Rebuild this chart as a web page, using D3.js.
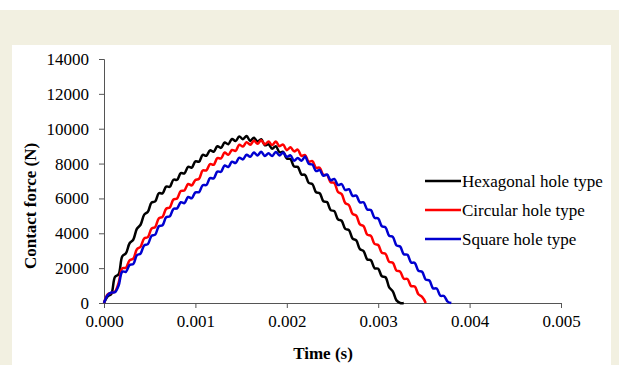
<!DOCTYPE html>
<html>
<head>
<meta charset="utf-8">
<script src="https://cdn.jsdelivr.net/npm/d3@7"></script>
<style>
  body { margin:0; background:#ffffff; }
  svg { display:block; }
  text { font-family:"Liberation Serif","Times New Roman",serif; fill:#000; }
</style>
</head>
<body>
<svg></svg>
<script>
// time in ms (axis shows seconds)
var timeMs = [
  0.00,0.04,0.08,0.12,0.16,0.20,0.24,0.28,0.32,0.36,0.40,0.44,0.48,0.52,0.56,0.60,
  0.64,0.68,0.72,0.76,0.80,0.84,0.88,0.92,0.96,1.00,1.04,1.08,1.12,1.16,1.20,1.24,
  1.28,1.32,1.36,1.40,1.44,1.48,1.52,1.56,1.60,1.64,1.68,1.72,1.76,1.80,1.84,1.88,
  1.92,1.96,2.00,2.04,2.08,2.12,2.16,2.20,2.24,2.28,2.32,2.36,2.40,2.44,2.48,2.52,
  2.56,2.60,2.64,2.68,2.72,2.76,2.80,2.84,2.88,2.92,2.96,3.00,3.04,3.08,3.12,3.16,
  3.20,3.24,3.28,3.32,3.36,3.40,3.44,3.48,3.52,3.56,3.60,3.64,3.68,3.72,3.76,3.80
];

var hexagonal = [
  0,380,520,1500,1650,2680,2850,3430,3630,4260,4490,5070,5240,5760,5830,6300,
  6290,6680,6670,7070,7070,7450,7440,7810,7770,8130,8110,8500,8450,8760,8680,8990,
  8900,9210,9110,9410,9290,9560,9400,9580,9300,9480,9260,9400,9050,9100,8850,9000,
  8650,8670,8290,8260,7830,7810,7380,7350,6890,6820,6350,6300,5840,5790,5330,5270,
  4800,4720,4250,4180,3690,3590,3090,2980,2500,2450,2000,1970,1530,1480,900,670,
  150,0,0
];

var circular = [
  0,500,580,650,1150,1990,2020,2450,2540,3080,3230,3710,3780,4270,4360,4860,
  4940,5410,5480,5940,6000,6430,6460,6830,6750,7060,7130,7600,7610,7970,7930,8310,
  8300,8630,8500,8780,8730,9080,8980,9230,9080,9310,9140,9340,9100,9260,9060,9260,
  9000,9090,8770,8930,8700,8800,8440,8490,8110,8140,7760,7760,7350,7340,6930,6890,
  6370,6250,5730,5610,5110,5010,4510,4410,3920,3850,3390,3330,2880,2820,2360,2310,
  1860,1800,1390,1380,970,950,500,350,0
];

var square = [
  0,450,600,620,1000,1800,1790,2180,2230,2740,2840,3310,3380,3850,3920,4400,
  4460,4920,4970,5400,5430,5780,5730,6080,6010,6350,6360,6760,6770,7160,7150,7540,
  7530,7890,7800,8110,8030,8340,8240,8510,8390,8630,8470,8680,8440,8590,8430,8670,
  8470,8630,8390,8470,8160,8320,8160,8400,7990,7940,7570,7630,7300,7370,7040,7120,
  6770,6820,6480,6530,6150,6160,5770,5780,5370,5330,4890,4850,4400,4340,3860,3790,
  3310,3240,2800,2770,2330,2300,1850,1790,1340,1290,840,830,420,400,80,0
];

var seriesNames = ["Hexagonal hole type","Circular hole type","Square hole type"];
var seriesColors = ["#000000","#ff0000","#0000d0"];
var xTicks = [0,1,2,3,4,5];
var yTicks = [0,2000,4000,6000,8000,10000,12000,14000];

var screen = {width:619,height:365};
var svg = d3.select("svg")
    .attr("width",screen.width)
    .attr("height",screen.height);

// page background and white panel
svg.append("rect").attr("x",0).attr("y",10).attr("width",screen.width).attr("height",screen.height-10)
    .attr("fill","#f2f0e1");
svg.append("rect").attr("x",12).attr("y",45).attr("width",599).attr("height",320)
    .attr("fill","#ffffff");

var plot = {left:104,right:561,top:59,bottom:303};

var xScale = d3.scaleLinear().domain([0,5]).range([plot.left,plot.right]);
var yScale = d3.scaleLinear().domain([0,14000]).range([plot.bottom,plot.top]);

var xAxis = d3.axisBottom(xScale).tickValues(xTicks).tickSizeOuter(0).tickSize(5)
    .tickPadding(7).tickFormat(function(d){ return (d/1000).toFixed(3); });
var yAxis = d3.axisLeft(yScale).tickValues(yTicks).tickSizeOuter(0).tickSize(5)
    .tickPadding(10).tickFormat(function(d){ return d; });

var gx = svg.append("g").attr("transform","translate(0,"+plot.bottom+")").call(xAxis);
var gy = svg.append("g").attr("transform","translate("+plot.left+",0)").call(yAxis);
[gx,gy].forEach(function(g){
    g.attr("font-family",null);
    g.select(".domain").attr("stroke","#555").attr("stroke-width",1);
    g.selectAll(".tick line").attr("stroke","#555");
    g.selectAll(".tick text").attr("font-size",17).attr("fill","#000");
});

var line = d3.line()
    .x(function(d){ return xScale(d.t); })
    .y(function(d){ return yScale(d.v); })
    .curve(d3.curveCatmullRom);

[hexagonal,circular,square].forEach(function(vals,i){
    var pts = vals.map(function(v,j){ return {t:timeMs[j],v:v}; });
    svg.append("path")
        .datum(pts)
        .attr("d",line)
        .attr("fill","none")
        .attr("stroke",seriesColors[i])
        .attr("stroke-width",2.5)
        .attr("stroke-linejoin","round");
});

// legend
var legend = svg.append("g").attr("transform","translate(425,181)");
seriesNames.forEach(function(name,i){
    var row = legend.append("g").attr("transform","translate(0,"+(i*29)+")");
    row.append("line").attr("x1",0).attr("x2",36).attr("y1",0).attr("y2",0)
        .attr("stroke",seriesColors[i]).attr("stroke-width",2.5);
    row.append("text").attr("x",37).attr("y",6).attr("font-size",17).text(name);
});

// axis titles
svg.append("text")
    .attr("x",323).attr("y",359)
    .attr("text-anchor","middle")
    .attr("font-size",17).attr("font-weight","bold")
    .text("Time (s)");
svg.append("text")
    .attr("transform","translate(36,206) rotate(-90)")
    .attr("text-anchor","middle")
    .attr("font-size",17).attr("font-weight","bold")
    .text("Contact force (N)");
</script>
</body>
</html>
